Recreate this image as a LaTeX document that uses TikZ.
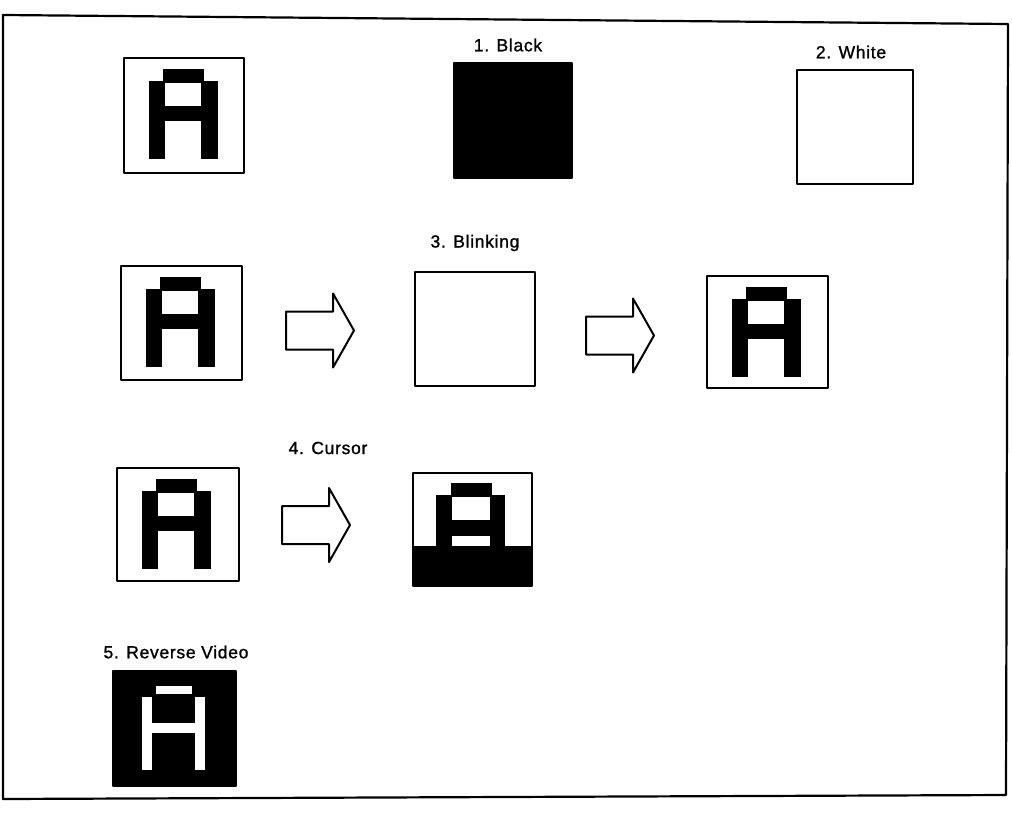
\documentclass[tikz,border=0pt]{standalone}
\usepackage{fontspec}
\setmainfont{Liberation Sans}[LetterSpace=4,FakeBold=1.2]
\begin{document}
\begin{tikzpicture}[x=1pt,y=-1pt,
  box/.style={draw,line width=2.2pt,inner sep=0pt,anchor=north west,line join=round},
  lbl/.style={font=\fontsize{17.5}{20}\selectfont,inner sep=0pt},
  blockarrow/.pic={\draw[line width=2pt,line join=round] (0,-19) -- (47,-19) -- (47,-37) -- (68,0) -- (47,37) -- (47,19) -- (0,19) -- cycle;},
  letterA/.pic={\fill (40,12) rectangle (81,26);
    \fill (26,24) rectangle (42,102);
    \fill (78,24) rectangle (95,102);
    \fill (42,49) rectangle (78,64);},
  cursorA/.pic={\fill (39,11) rectangle (80,25);
    \fill (24,23) rectangle (40,75);
    \fill (78,23) rectangle (93,75);
    \fill (40,48) rectangle (78,64);
    \fill (0,74) rectangle (119,113);},
  reverseA/.pic={\fill[white] (44,16) rectangle (80,24);
    \fill[white] (30,27) rectangle (40,100);
    \fill[white] (83,27) rectangle (93,100);
    \fill[white] (40,53) rectangle (83,63);}
]
\useasboundingbox (0,0) rectangle (1012,814);
% frame
\draw[line width=2.2pt,line join=round] (3,15) -- (1008,24) -- (1006,795) -- (3,799) -- cycle;

% row 1
\node[box,minimum width=120pt,minimum height=115pt] (a1) at (123,57) {};
\pic at (a1.north west) {letterA};
\node[box,fill=black,minimum width=118pt,minimum height=115pt] (black) at (453,62) {};
\node[lbl] (lblack) at (508,45) {1. Black};
\node[box,minimum width=116pt,minimum height=114pt] (white) at (796,69) {};
\node[lbl] (lwhite) at (851,52) {2. White};

% row 2
\node[box,minimum width=121pt,minimum height=114pt] (a2) at (120,265) {};
\pic at (a2.north west) {letterA};
\pic at (286,330.5) {blockarrow};
\node[box,minimum width=120pt,minimum height=114pt] (blink) at (414,271) {};
\node[lbl] (lblink) at (475,243) {3. Blinking};
\pic at (586,335.5) {blockarrow};
\node[box,minimum width=121pt,minimum height=112pt] (a3) at (706,275) {};
\pic at (a3.north west) {letterA};

% row 3
\node[box,minimum width=122pt,minimum height=113pt] (a4) at (116,467) {};
\pic at (a4.north west) {letterA};
\pic at (282,525) {blockarrow};
\node[lbl] (lcursor) at (328,448) {4. Cursor};
\node[box,minimum width=119pt,minimum height=113pt] (cursor) at (412,472) {};
\pic at (cursor.north west) {cursorA};

% row 4
\node[lbl] (lrev) at (176,652) {5. Reverse Video};
\node[box,fill=black,minimum width=123pt,minimum height=115pt] (rev) at (112,670) {};
\pic at (rev.north west) {reverseA};
\end{tikzpicture}
\end{document}
